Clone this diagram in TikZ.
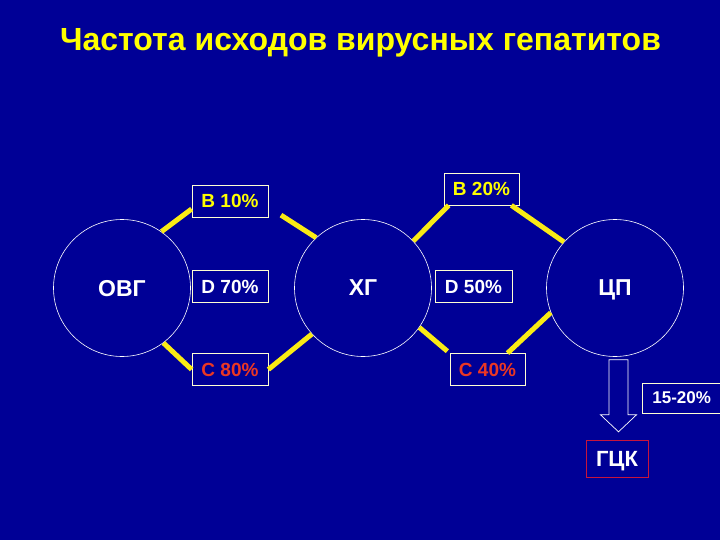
\documentclass[tikz,border=0pt]{standalone}
\usepackage{fontspec}
\setmainfont{Liberation Sans}
\usetikzlibrary{calc}
\definecolor{bg}{RGB}{0,0,150}
\definecolor{ttl}{RGB}{255,255,0}
\definecolor{ln}{RGB}{250,235,20}
\definecolor{bx}{RGB}{255,255,210}
\definecolor{cred}{RGB}{235,55,35}
\definecolor{gred}{RGB}{200,20,60}
\tikzset{
  circ/.style={circle, draw=white, line width=0.6pt, minimum size=137pt, inner sep=0pt,
    text=white, text depth=0pt, font=\bfseries\fontsize{23}{23}\selectfont},
  lbl/.style={draw=bx, line width=0.7pt, minimum width=76pt, minimum height=32pt, inner sep=0pt,
    font=\bfseries\fontsize{19}{19}\selectfont},
  yl/.style={draw=ln, line width=5pt},
}
\begin{document}
\begin{tikzpicture}[x=1pt,y=-1pt]
\fill[bg] (0,0) rectangle (720,540);
\useasboundingbox (0,0) rectangle (720,540);
\clip (0,0) rectangle (720,540);
\node[text=ttl, font=\bfseries\fontsize{32}{32}\selectfont, anchor=base, inner sep=0pt] (title) at (360.5,51) {Частота исходов вирусных гепатитов};

\node[circ] (ovg) at (122,288) {ОВГ};
\node[circ] (xg) at (363,288) {ХГ};
\node[circ] (cp) at (615,288) {ЦП};

\node[lbl, text=ttl] (b10) at (230,201) {B 10\%};
\node[lbl, text=white] (d70) at (230,286.5) {D 70\%};
\node[lbl, text=cred] (c80) at (230,369.5) {C 80\%};
\node[lbl, text=ttl, minimum width=75pt] (b20) at (481.5,189) {B 20\%};
\node[lbl, text=white, minimum width=77pt] (d50) at (473.5,286.5) {D 50\%};
\node[lbl, text=cred, minimum width=75pt] (c40) at (487.5,369.5) {C 40\%};
\node[lbl, text=white, minimum width=84pt, minimum height=30pt, anchor=west, font=\bfseries\fontsize{17}{17}\selectfont, text width=78pt, align=left, inner xsep=0pt] (p1520) at (642,398) {\hspace*{7pt}15-20\%};
\node[draw=gred, line width=0.7pt, minimum width=62pt, minimum height=37pt, inner sep=0pt, text depth=0pt, text=white, font=\bfseries\fontsize{22}{22}\selectfont] (gck) at (617,458.5) {ГЦК};

% yellow connectors
\draw[yl] (ovg.55) -- ([yshift=-8pt]b10.west);
\draw[yl] (ovg.-53) -- ([yshift=0pt]c80.west);
\draw[yl, shorten <=15pt] ([yshift=-6pt]b10.east) -- (xg.133);
\draw[yl] (c80.east) -- (xg.222);
\draw[yl] (xg.43) -- ([xshift=5pt]b20.south west);
\draw[yl] ([xshift=-8pt]b20.south east) -- (cp.138);
\draw[yl, shorten >=3pt] (xg.-35) -- (c40.north west);
\draw[yl] ([xshift=20pt]c40.north) -- (cp.201);

% open block arrow from ЦП to ГЦК
\coordinate (at) at ($(cp.south)+(3.5pt,-3pt)$);
\draw[white, line width=0.7pt, line join=miter]
  ($(at)+(-9.5,0)$) -- ($(at)+(9.5,0)$) -- ($(at)+(9.5,55)$) -- ($(at)+(18,55)$)
  -- ($(at)+(0,72)$) -- ($(at)+(-18,55)$) -- ($(at)+(-9.5,55)$) -- cycle;
\end{tikzpicture}
\end{document}
